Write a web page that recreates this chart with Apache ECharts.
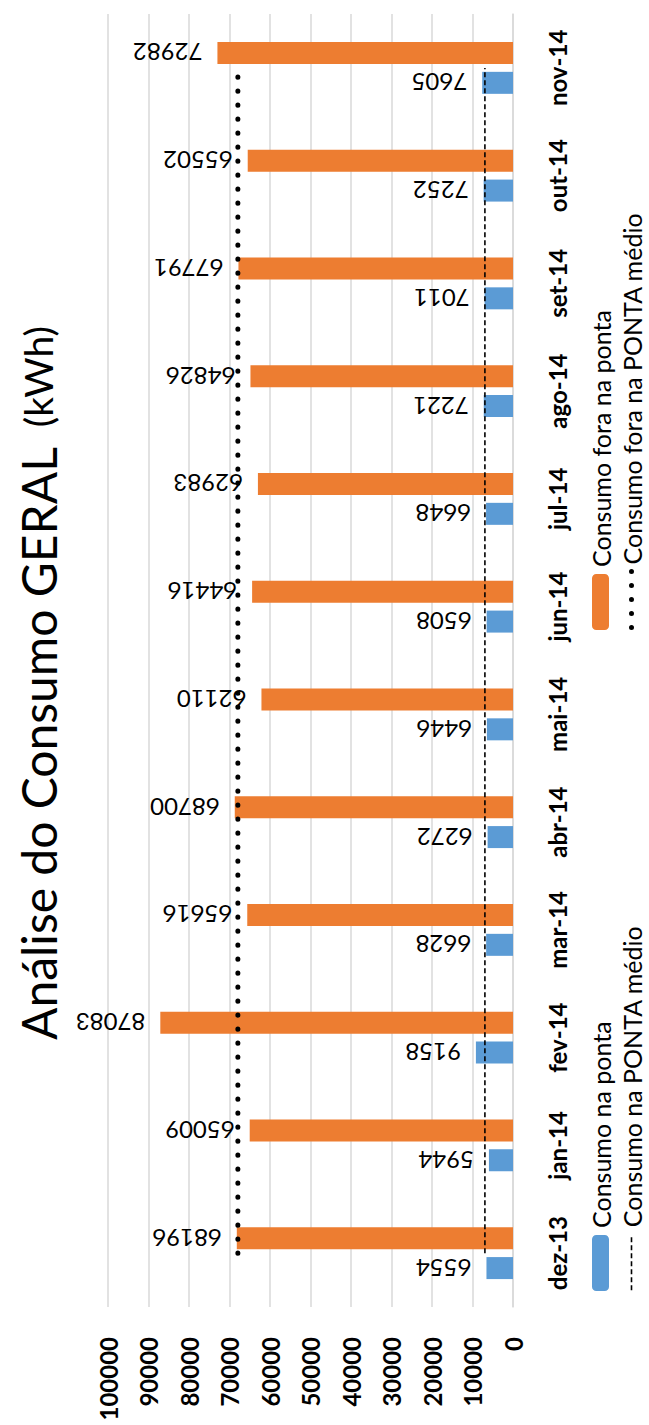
<!DOCTYPE html>
<html>
<head>
<meta charset="utf-8">
<title>Análise do Consumo GERAL (kWh)</title>
<script src="https://cdn.jsdelivr.net/npm/echarts@6/dist/echarts.min.js"></script>
<style>
  html, body { margin: 0; padding: 0; width: 649px; height: 1425px; overflow: hidden; background: #ffffff; }
  /* The chart is laid out as a wide column chart and turned a quarter turn
     counter-clockwise, so months run bottom-to-top on the page. */
  #chart {
    position: absolute; left: 0; top: 0;
    width: 1425px; height: 649px;
    transform-origin: 0 0;
    transform: translateY(1425px) rotate(-90deg);
  }
</style>
</head>
<body>
<div id="chart"></div>
<script>
// Months
const categories = ['dez-13', 'jan-14', 'fev-14', 'mar-14', 'abr-14', 'mai-14',
                    'jun-14', 'jul-14', 'ago-14', 'set-14', 'out-14', 'nov-14'];

// Consumption (kWh)
const consumoPonta     = [6554, 5944, 9158, 6628, 6272, 6446, 6508, 6648, 7221, 7011, 7252, 7605];
const consumoForaPonta = [68196, 65009, 87083, 65616, 68700, 62110, 64416, 62983, 64826, 67791, 65502, 72982];

// Average reference lines (kWh)
const pontaMedio     = [6937, 6937, 6937, 6937, 6937, 6937, 6937, 6937, 6937, 6937, 6937, 6937];
const foraPontaMedio = [67935, 67935, 67935, 67935, 67935, 67935, 67935, 67935, 67935, 67935, 67935, 67935];

// Value axis ticks
const valueMin = 0;
const valueMax = 100000;
const valueStep = 10000;

const FONT = 'Lato, "Liberation Sans", sans-serif';
const BLUE = '#5B9BD5';
const ORANGE = '#ED7D31';

const DASHED = { color: '#000000', width: 1.6, type: [5, 3] };
const DOTTED = { color: '#000000', width: 5, type: [0.1, 13.9], cap: 'round' };

const chart = echarts.init(document.getElementById('chart'), null, { renderer: 'svg' });

const dataLabel = {
  show: true,
  position: 'top',
  rotate: 90,
  align: 'left',
  verticalAlign: 'middle',
  distance: 15,
  fontFamily: FONT,
  fontSize: 24,
  color: '#000000'
};

const legendBase = {
  orient: 'horizontal',
  padding: 0,
  itemWidth: 56,
  itemHeight: 17,
  itemGap: 10,
  textStyle: { fontFamily: FONT, fontSize: 25, color: '#000000', padding: [0, 0, 0, 2] }
};

// Line keys show only the stroke pattern, no marker
const transparentMarker = { color: 'rgba(0,0,0,0)', borderWidth: 0 };

chart.setOption({
  backgroundColor: '#ffffff',
  animation: false,
  title: {
    text: '{a|Análise do Consumo GERAL}{b|  (kWh)}',
    left: 380,
    top: 9,
    textStyle: {
      rich: {
        a: { fontFamily: FONT, fontSize: 48, color: '#000000', fontWeight: 'normal' },
        b: { fontFamily: FONT, fontSize: 39, color: '#000000', fontWeight: 'normal' }
      }
    }
  },
  legend: [
    Object.assign({}, legendBase, { data: ['Consumo na ponta'], left: 134, top: 588 }),
    Object.assign({}, legendBase, { data: ['Consumo fora na ponta'], left: 795, top: 588 }),
    Object.assign({}, legendBase, {
      data: ['Consumo na PONTA médio'], left: 134, top: 619,
      itemStyle: transparentMarker, lineStyle: DASHED
    }),
    Object.assign({}, legendBase, {
      data: ['Consumo fora na PONTA médio'], left: 795, top: 619,
      itemStyle: transparentMarker, lineStyle: DOTTED
    })
  ],
  grid: { left: 118, right: 14, top: 108, bottom: 136 },
  xAxis: {
    type: 'category',
    data: categories,
    axisTick: { show: false },
    axisLine: { show: true, lineStyle: { color: '#d9d9d9', width: 1.5 } },
    axisLabel: { fontFamily: FONT, fontSize: 24, fontWeight: 'bold', color: '#000000', margin: 32 }
  },
  yAxis: {
    type: 'value',
    min: valueMin,
    max: valueMax,
    interval: valueStep,
    axisLine: { show: false },
    axisTick: { show: false },
    splitLine: { show: true, lineStyle: { color: '#d9d9d9', width: 1.5 } },
    axisLabel: {
      fontFamily: FONT, fontSize: 24, fontWeight: 'bold', color: '#000000', margin: 30,
      formatter: function (v) { return String(v); }
    }
  },
  series: [
    {
      name: 'Consumo na ponta',
      type: 'bar',
      data: consumoPonta,
      barWidth: 22,
      barGap: '36%',
      itemStyle: { color: BLUE },
      label: dataLabel
    },
    {
      name: 'Consumo fora na ponta',
      type: 'bar',
      data: consumoForaPonta,
      barWidth: 22,
      barGap: '36%',
      itemStyle: { color: ORANGE },
      label: dataLabel
    },
    {
      name: 'Consumo na PONTA médio',
      type: 'line',
      data: pontaMedio,
      symbol: 'none',
      color: '#000000',
      lineStyle: DASHED,
      z: 5
    },
    {
      name: 'Consumo fora na PONTA médio',
      type: 'line',
      data: foraPontaMedio,
      symbol: 'none',
      color: '#000000',
      lineStyle: DOTTED,
      z: 5
    }
  ]
});
</script>
</body>
</html>
